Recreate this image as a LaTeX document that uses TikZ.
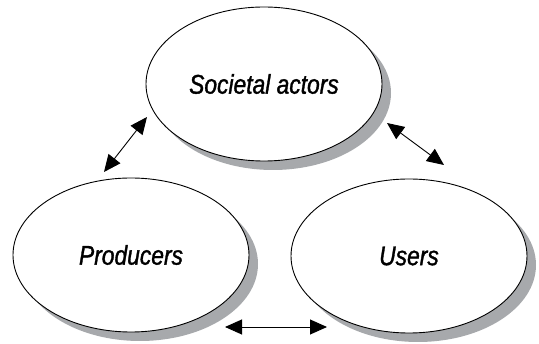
\documentclass[tikz,border=0pt]{standalone}
\usepackage{fontspec}
\setmainfont{Liberation Sans}
\newfontfamily\labelfont[FakeStretch=0.845,FakeBold=1.2,
  ItalicFeatures={FakeStretch=0.845,FakeBold=1.2}]{Liberation Sans}
\usetikzlibrary{arrows.meta,shapes.geometric,shadows}
\definecolor{shadowgray}{HTML}{A7A9AC}
\tikzset{
  actor/.style={ellipse, draw=black, line width=0.9pt, fill=white,
    minimum width=236pt, minimum height=154pt, inner sep=0pt,
    font=\labelfont\itshape\fontsize{27}{30}\selectfont, text=black,
    drop shadow={shadow xshift=9pt, shadow yshift=-9pt, fill=shadowgray, opacity=1}},
  link/.style={line width=0.9pt, {Triangle[length=17pt,width=15pt]}-{Triangle[length=17pt,width=15pt]}}
}
\begin{document}
\begin{tikzpicture}[x=1pt,y=-1pt]
  \useasboundingbox (0,0) rectangle (539,344);
  % the three groups of actors
  \node[actor] (soc)  at (264,84)  {Societal actors};
  \node[actor] (prod) at (131,255) {Producers};
  \node[actor] (user) at (409,256) {Users};
  % arrow end points in the gaps between the ellipses
  \coordinate (sp1) at (147,117);
  \coordinate (sp2) at (104,172);
  \coordinate (su1) at (387,123);
  \coordinate (su2) at (444,165);
  \coordinate (pu1) at (225,327);
  \coordinate (pu2) at (327,327);
  % two-way relations
  \draw[link] (sp1) -- (sp2);
  \draw[link] (su1) -- (su2);
  \draw[link] (pu1) -- (pu2);
\end{tikzpicture}
\end{document}
